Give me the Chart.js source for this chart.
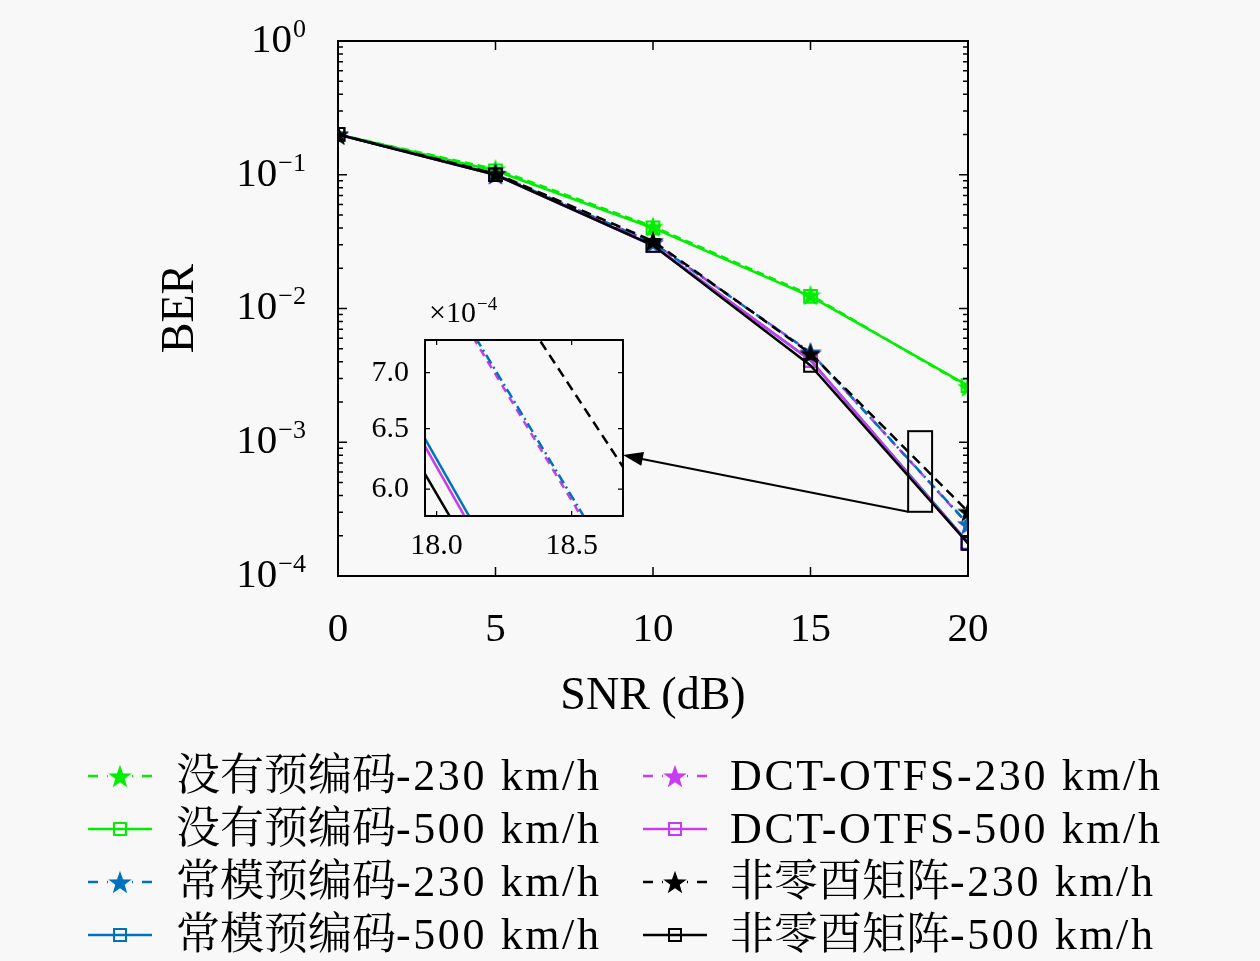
<!DOCTYPE html>
<html>
<head>
<meta charset="utf-8">
<script src="https://cdn.jsdelivr.net/npm/chart.js@4.4.1/dist/chart.umd.min.js"></script>
<style>
  html, body { margin: 0; padding: 0; background: #f8f8f8; }
  #wrap { position: relative; width: 1260px; height: 961px; }
  #main { position: absolute; left: 0; top: 0; }
  #inset { position: absolute; left: 340px; top: 290px; }
</style>
</head>
<body>
<div id="wrap">
  <canvas id="main" width="1260" height="961"></canvas>
  <canvas id="inset" width="300" height="280"></canvas>
</div>
<script>
//------------------------------------- Données -------------------------------------
const snr = [0, 5, 10, 15, 20];
const snrTicks = [0, 5, 10, 15, 20];
const berTicks = [1e-4, 1e-3, 1e-2, 1e-1, 1];

const labels = [
  '没有预编码-230 km/h', '没有预编码-500 km/h',
  '常模预编码-230 km/h', '常模预编码-500 km/h',
  'DCT-OTFS-230 km/h', 'DCT-OTFS-500 km/h',
  '非零酉矩阵-230 km/h', '非零酉矩阵-500 km/h'
];

const noPrec230 = [0.2, 0.110, 0.0410, 0.0126, 0.00260];
const noPrec500 = [0.2, 0.107, 0.0400, 0.0123, 0.00265];
const cm230     = [0.2, 0.101, 0.0310, 0.0047, 0.000245];
const cm500     = [0.2, 0.100, 0.0295, 0.0041, 0.000178];
const dct230    = [0.2, 0.101, 0.0310, 0.0047, 0.000243];
const dct500    = [0.2, 0.100, 0.0295, 0.0041, 0.000175];
const nz230     = [0.2, 0.102, 0.0320, 0.0046, 0.000303];
const nz500     = [0.2, 0.100, 0.0297, 0.00375, 0.000175];

// zoom de l'encart
const insetXTicks = [18.0, 18.5];
const insetYTicks = [6.0e-4, 6.5e-4, 7.0e-4];

//------------------------------------- Styles -------------------------------------
const SERIF = "'Liberation Serif', 'Noto Serif CJK SC', 'Noto Sans CJK SC', serif";
const GREEN = '#00ee00', BLUE = '#0072bd', MAG = '#c83cf0', BLACK = '#000000';

// order : plus petit = dessiné au-dessus
const seriesStyle = [
  { values: noPrec230, color: GREEN, dash: [8, 5], star: true, order: 8 },
  { values: noPrec500, color: GREEN, dash: [], star: false, order: 7 },
  { values: cm230, color: BLUE, dash: [10, 4, 2, 4], star: true, order: 3 },
  { values: cm500, color: BLUE, dash: [], star: false, order: 6 },
  { values: dct230, color: MAG, dash: [8, 6], star: true, order: 5 },
  { values: dct500, color: MAG, dash: [], star: false, order: 4 },
  { values: nz230, color: BLACK, dash: [10, 6], star: true, order: 2 },
  { values: nz500, color: BLACK, dash: [], star: false, order: 1 }
];

function makeStar(color, size) {
  const c = document.createElement('canvas');
  c.width = c.height = size;
  const g = c.getContext('2d');
  const cx = size / 2, cy = size / 2 + size * 0.05;
  const R = size / 2 - 1.5, r = R * 0.4;
  g.beginPath();
  for (let k = 0; k < 10; k++) {
    const a = -Math.PI / 2 + k * Math.PI / 5;
    const rad = k % 2 ? r : R;
    g.lineTo(cx + rad * Math.cos(a), cy + rad * Math.sin(a));
  }
  g.closePath();
  g.fillStyle = color;
  g.fill();
  g.lineWidth = 1.2;
  g.strokeStyle = color;
  g.stroke();
  return c;
}

function buildDatasets(withPoints) {
  return seriesStyle.map((s, i) => ({
    label: labels[i],
    data: snr.map((x, j) => ({ x: x, y: s.values[j] })),
    borderColor: s.color,
    borderDash: s.dash,
    borderWidth: 2.5,
    backgroundColor: 'rgba(0,0,0,0)',
    pointStyle: s.star ? makeStar(s.color, 22) : 'rect',
    pointRadius: withPoints ? (s.star ? 11 : 9) : 0,
    pointBorderColor: s.color,
    pointBorderWidth: 2,
    pointBackgroundColor: 'rgba(0,0,0,0)',
    tension: 0,
    order: s.order
  }));
}

// texte mixte : les parties latines un peu espacées (aspect LaTeX)
function drawMixed(ctx, text, x, y) {
  const runs = text.match(/[\u4e00-\u9fff]+|[^\u4e00-\u9fff]+/g);
  runs.forEach(r => {
    const cjk = /[\u4e00-\u9fff]/.test(r);
    ctx.letterSpacing = cjk ? '0px' : '2.6px';
    ctx.fillText(r, x, y);
    x += ctx.measureText(r).width;
  });
  ctx.letterSpacing = '0px';
}

//------------------------------------- Plugin cadre / légende -------------------------------------
const mainDecor = {
  id: 'mainDecor',
  afterDraw(chart) {
    const { ctx, chartArea: a, scales } = chart;
    const xs = scales.x, ys = scales.y;
    ctx.save();
    ctx.strokeStyle = '#000';
    ctx.lineWidth = 2;
    ctx.setLineDash([]);
    ctx.strokeRect(a.left, a.top, a.right - a.left, a.bottom - a.top);

    // ticks vers l'intérieur
    ctx.lineWidth = 1.5;
    ctx.beginPath();
    snrTicks.forEach(v => {
      const px = xs.getPixelForValue(v);
      ctx.moveTo(px, a.bottom); ctx.lineTo(px, a.bottom - 9);
      ctx.moveTo(px, a.top); ctx.lineTo(px, a.top + 9);
    });
    for (let d = -4; d < 0; d++) {
      for (let k = 1; k <= 9; k++) {
        const py = ys.getPixelForValue(k * Math.pow(10, d));
        const len = k === 1 ? 9 : 5;
        ctx.moveTo(a.left, py); ctx.lineTo(a.left + len, py);
        ctx.moveTo(a.right, py); ctx.lineTo(a.right - len, py);
      }
    }
    ctx.stroke();

    // étiquettes y : 10^n
    ctx.fillStyle = '#000';
    ctx.textBaseline = 'middle';
    berTicks.forEach(v => {
      const py = ys.getPixelForValue(v);
      const e = Math.round(Math.log10(v));
      const expTxt = e < 0 ? '\u2212' + (-e) : String(e);
      ctx.font = '26px ' + SERIF;
      ctx.textAlign = 'right';
      const ew = ctx.measureText(expTxt).width;
      ctx.fillText(expTxt, 306, py - 11);
      ctx.font = '41px ' + SERIF;
      ctx.fillText('10', 306 - ew - 1, py);
    });

    // rectangle de zoom + flèche
    const bx0 = xs.getPixelForValue(18.1), bx1 = xs.getPixelForValue(18.86);
    const by0 = ys.getPixelForValue(1.21e-3), by1 = ys.getPixelForValue(3.02e-4);
    ctx.lineWidth = 2;
    ctx.strokeRect(bx0, by0, bx1 - bx0, by1 - by0);
    const tipX = 623, tipY = 455;
    ctx.beginPath();
    ctx.moveTo(bx0, by1);
    ctx.lineTo(tipX + 14, tipY + 3);
    ctx.stroke();
    const ang = Math.atan2(by1 - tipY, bx0 - tipX);
    ctx.beginPath();
    ctx.moveTo(tipX, tipY);
    ctx.lineTo(tipX + 20 * Math.cos(ang) - 7 * Math.sin(ang), tipY + 20 * Math.sin(ang) + 7 * Math.cos(ang));
    ctx.lineTo(tipX + 20 * Math.cos(ang) + 7 * Math.sin(ang), tipY + 20 * Math.sin(ang) - 7 * Math.cos(ang));
    ctx.closePath();
    ctx.fill();

    // légende en deux colonnes
    seriesStyle.forEach((s, i) => {
      const col = i < 4 ? 0 : 1;
      const row = i % 4;
      const y = 776 + row * 53;
      const x0 = col ? 643 : 88, x1 = col ? 707 : 152;
      const mx = (x0 + x1) / 2;
      ctx.strokeStyle = s.color;
      ctx.fillStyle = s.color;
      ctx.lineWidth = 2.5;
      ctx.beginPath();
      if (s.dash.length) {
        ctx.moveTo(x0, y); ctx.lineTo(x0 + 10, y);
        ctx.moveTo(x0 + 19, y); ctx.lineTo(mx - 12, y);
        ctx.moveTo(mx + 12, y); ctx.lineTo(x1 - 19, y);
        ctx.moveTo(x1 - 10, y); ctx.lineTo(x1, y);
      } else {
        ctx.moveTo(x0, y); ctx.lineTo(x1, y);
      }
      ctx.stroke();
      if (s.star) {
        ctx.drawImage(makeStar(s.color, 24), mx - 12, y - 12);
      } else {
        ctx.lineWidth = 2;
        ctx.strokeRect(mx - 6, y - 6, 12, 12);
      }
      ctx.fillStyle = '#000';
      ctx.font = '44px ' + SERIF;
      ctx.textAlign = 'left';
      ctx.textBaseline = 'middle';
      drawMixed(ctx, labels[i], col ? 730 : 176, y + 2);
    });
    ctx.restore();
  }
};

const insetDecor = {
  id: 'insetDecor',
  beforeDatasetsDraw(chart) {
    const { ctx, chartArea: a } = chart;
    ctx.save();
    ctx.fillStyle = '#f8f8f8';
    ctx.fillRect(a.left, a.top, a.right - a.left, a.bottom - a.top);
    ctx.restore();
  },
  afterDraw(chart) {
    const { ctx, chartArea: a, scales } = chart;
    ctx.save();
    ctx.strokeStyle = '#000';
    ctx.lineWidth = 2;
    ctx.strokeRect(a.left, a.top, a.right - a.left, a.bottom - a.top);
    ctx.lineWidth = 1.2;
    ctx.beginPath();
    insetXTicks.forEach(v => {
      const px = scales.x.getPixelForValue(v);
      ctx.moveTo(px, a.bottom); ctx.lineTo(px, a.bottom - 5);
      ctx.moveTo(px, a.top); ctx.lineTo(px, a.top + 5);
    });
    insetYTicks.forEach(v => {
      const py = scales.y.getPixelForValue(v);
      ctx.moveTo(a.left, py); ctx.lineTo(a.left + 5, py);
      ctx.moveTo(a.right, py); ctx.lineTo(a.right - 5, py);
    });
    ctx.stroke();
    // ×10^-4
    ctx.fillStyle = '#000';
    ctx.textBaseline = 'middle';
    ctx.textAlign = 'left';
    ctx.font = '30px ' + SERIF;
    ctx.fillText('\u00d710', a.left + 4, a.top - 26);
    const w = ctx.measureText('\u00d710').width;
    ctx.font = '19px ' + SERIF;
    ctx.fillText('\u22124', a.left + 4 + w + 1, a.top - 35);
    ctx.restore();
  }
};

//------------------------------------- Graphique principal -------------------------------------
new Chart(document.getElementById('main'), {
  type: 'line',
  data: { datasets: buildDatasets(true) },
  options: {
    responsive: false,
    animation: false,
    devicePixelRatio: 1,
    layout: { padding: { left: 0, top: 41, right: 292, bottom: 236 } },
    plugins: { legend: { display: false }, tooltip: { enabled: false } },
    scales: {
      x: {
        type: 'linear', min: 0, max: 20, bounds: 'data',
        afterBuildTicks: s => { s.ticks = snrTicks.map(v => ({ value: v })); },
        afterFit: s => { s.height = 149; },
        grid: { display: false, drawTicks: false },
        border: { display: false },
        ticks: { color: '#000', font: { family: SERIF, size: 41 }, padding: 30, maxRotation: 0 },
        title: { display: true, text: 'SNR (dB)', color: '#000', font: { family: SERIF, size: 46 }, padding: { top: 0, bottom: 0 } }
      },
      y: {
        type: 'logarithmic', min: 1e-4, max: 1, bounds: 'data',
        afterBuildTicks: s => { s.ticks = berTicks.map(v => ({ value: v })); },
        afterFit: s => { s.width = 338; },
        grid: { display: false, drawTicks: false },
        border: { display: false },
        ticks: { display: false },
        title: { display: true, text: 'BER', color: '#000', font: { family: SERIF, size: 46 }, padding: { top: 153, bottom: 0 } }
      }
    }
  },
  plugins: [mainDecor]
});

//------------------------------------- Encart -------------------------------------
new Chart(document.getElementById('inset'), {
  type: 'line',
  data: { datasets: buildDatasets(false) },
  options: {
    responsive: false,
    animation: false,
    devicePixelRatio: 1,
    layout: { padding: { left: 0, top: 50, right: 17, bottom: 0 } },
    plugins: { legend: { display: false }, tooltip: { enabled: false } },
    scales: {
      x: {
        type: 'linear', min: 17.957, max: 18.69, bounds: 'data',
        afterBuildTicks: s => { s.ticks = insetXTicks.map(v => ({ value: v })); },
        afterFit: s => { s.height = 54; },
        grid: { display: false, drawTicks: false },
        border: { display: false },
        ticks: { color: '#000', font: { family: SERIF, size: 30 }, padding: 12, maxRotation: 0,
                 callback: v => Number(v).toFixed(1) }
      },
      y: {
        type: 'logarithmic', min: 5.79e-4, max: 7.31e-4, bounds: 'data',
        afterBuildTicks: s => { s.ticks = insetYTicks.map(v => ({ value: v })); },
        afterFit: s => { s.width = 85; },
        grid: { display: false, drawTicks: false },
        border: { display: false },
        ticks: { color: '#000', font: { family: SERIF, size: 30 }, padding: 16,
                 callback: v => (v / 1e-4).toFixed(1) }
      }
    }
  },
  plugins: [insetDecor]
});
</script>
</body>
</html>
